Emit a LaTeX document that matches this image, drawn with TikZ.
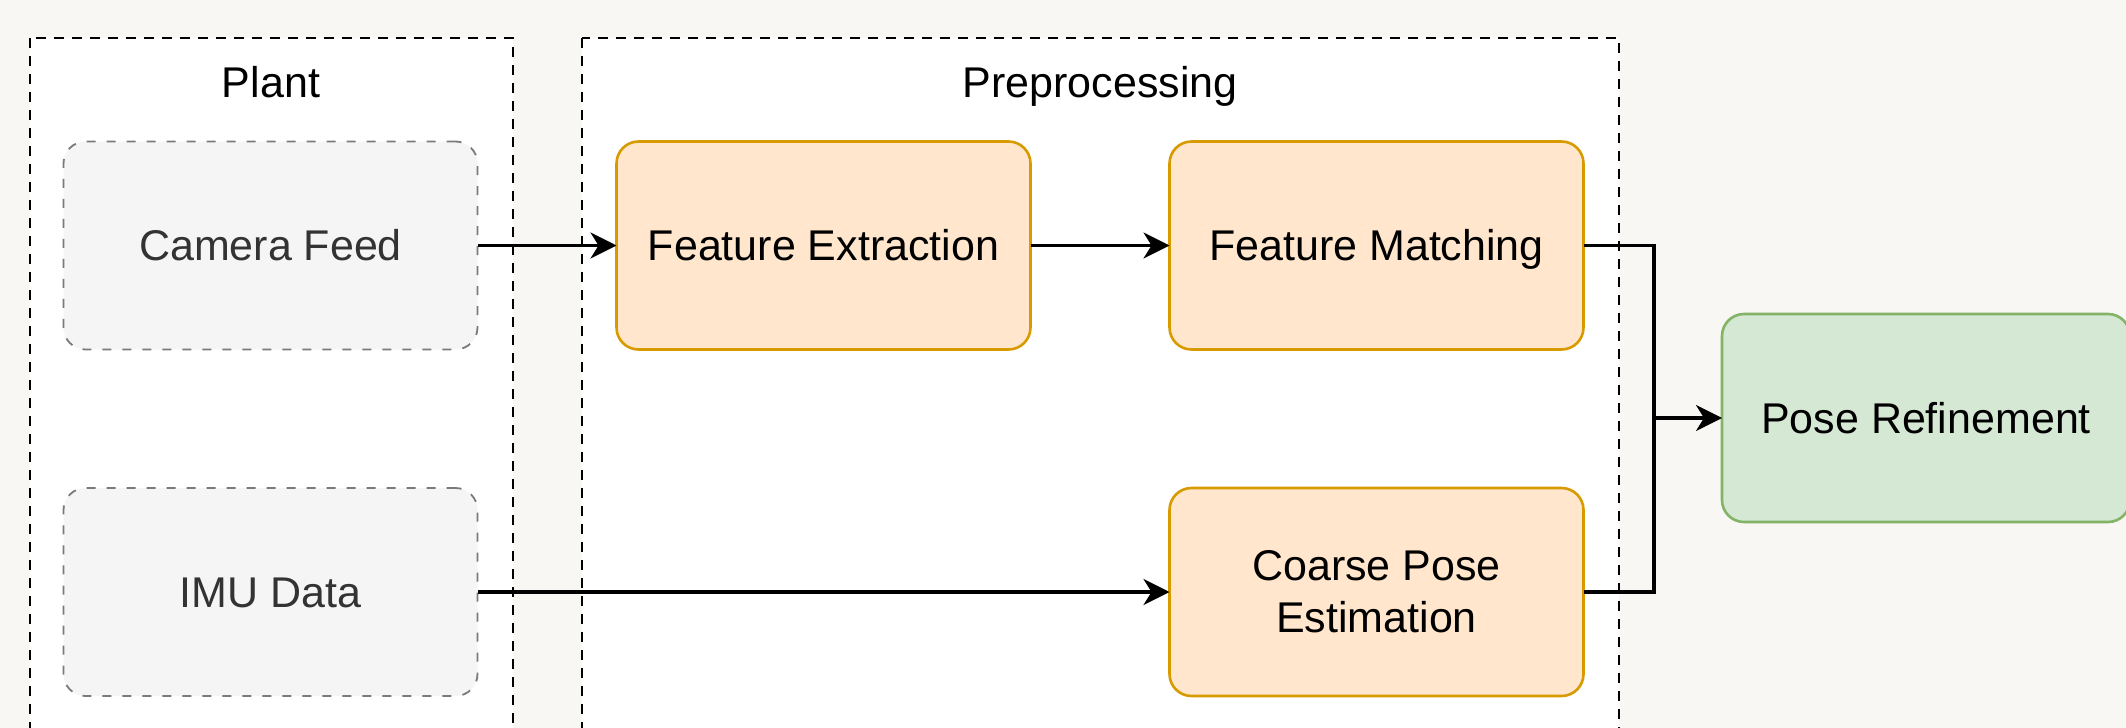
\documentclass[tikz,border=0pt]{standalone}
\usepackage{fontspec}
\setmainfont{Liberation Sans}
\usetikzlibrary{arrows.meta}
\definecolor{bgcol}{HTML}{F8F7F3}
\definecolor{grayfill}{HTML}{F5F5F5}
\definecolor{graydraw}{HTML}{7A7A7A}
\definecolor{grayText}{HTML}{333333}
\definecolor{orfill}{HTML}{FFE6CC}
\definecolor{ordraw}{HTML}{D79B00}
\definecolor{grfill}{HTML}{D5E8D4}
\definecolor{grdraw}{HTML}{82B366}
\tikzset{
  txt/.style={font=\fontsize{21.5}{26}\selectfont},
  container/.style={draw=black, fill=white, line width=1pt, dash pattern=on 5pt off 4pt},
  boxbase/.style={txt, rounded corners=11pt, minimum width=207pt, minimum height=104pt, inner sep=0pt, outer sep=0pt},
  oneline/.style={text height=15.4pt, text depth=0pt},
  srcbox/.style={boxbase, fill=grayfill, draw=graydraw, line width=0.9pt, dash pattern=on 4.5pt off 5.5pt, text=grayText},
  procbox/.style={boxbase, fill=orfill, draw=ordraw, line width=1.3pt},
  outbox/.style={boxbase, fill=grfill, draw=grdraw, line width=1.3pt},
  conn/.style={draw=black, line width=1.6pt, -{Stealth[length=13pt, width=13pt, inset=4pt]}},
  plainconn/.style={draw=black, line width=1.6pt},
  ctitle/.style={txt, anchor=base, inner sep=0pt}
}
\begin{document}
\begin{tikzpicture}[x=0.5pt, y=-0.5pt]
\useasboundingbox (0,0) rectangle (2126,728);
\clip (0,0) rectangle (2126,728);
\fill[bgcol] (0,0) rectangle (2126,728);
% containers
\draw[container] (30,38) rectangle (513,760);
\draw[container] (582,38) rectangle (1619,760);
\node[ctitle] (tplant) at (271,97) {Plant};
\node[ctitle] (tpre) at (1100,97) {Preprocessing};
% nodes
\node[srcbox, oneline] (cam) at (270.5,245.5) {Camera Feed};
\node[srcbox, oneline] (imu) at (270.5,592) {IMU Data};
\node[procbox, oneline] (fe) at (823.5,245.5) {Feature Extraction};
\node[procbox, oneline] (fm) at (1376.5,245.5) {Feature Matching};
\node[procbox, align=center] (cpe) at (1376.5,592) {Coarse Pose\\Estimation};
\node[outbox, oneline, minimum width=204pt] (pose) at (1926,418) {Pose Refinement};
\coordinate (j) at (1654,418);
% connectors
\draw[conn] (cam.east) -- (fe.west);
\draw[conn] (fe.east) -- (fm.west);
\draw[conn] (imu.east) -- (cpe.west);
\draw[plainconn] (fm.east) -| (j);
\draw[plainconn] (cpe.east) -| (j);
\draw[conn] (j) -- (pose.west);
\end{tikzpicture}
\end{document}
